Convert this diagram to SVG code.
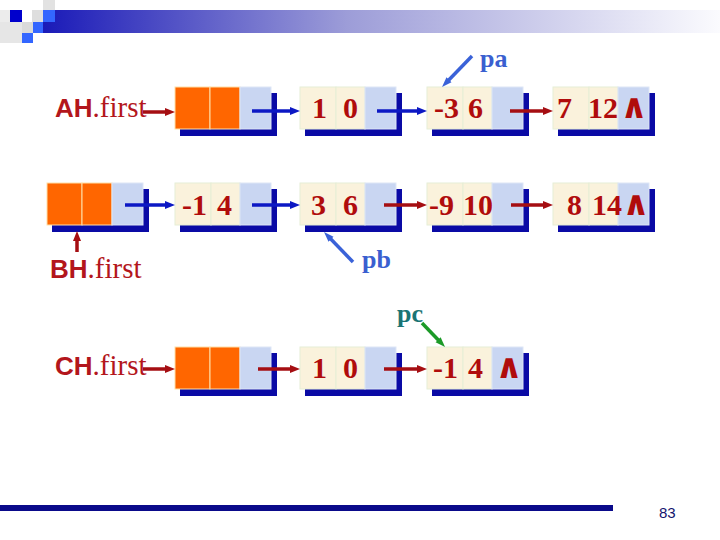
<svg xmlns="http://www.w3.org/2000/svg" width="720" height="540" viewBox="0 0 720 540">
<defs>
<linearGradient id="bar" x1="43" y1="0" x2="720" y2="0" gradientUnits="userSpaceOnUse">
<stop offset="0" stop-color="#1a1ab8"/>
<stop offset="0.45" stop-color="#9d9dd8"/>
<stop offset="1" stop-color="#fbfbfe"/>
</linearGradient>
<marker id="ab" markerUnits="userSpaceOnUse" markerWidth="10" markerHeight="8" refX="2" refY="4" orient="auto"><path d="M0,0 L10,4 L0,8 z" fill="#0c18c4"/></marker>
<marker id="ar" markerUnits="userSpaceOnUse" markerWidth="10" markerHeight="8" refX="2" refY="4" orient="auto"><path d="M0,0 L10,4 L0,8 z" fill="#a50e12"/></marker>
<marker id="ap" markerUnits="userSpaceOnUse" markerWidth="10" markerHeight="8" refX="2" refY="4" orient="auto"><path d="M0,0.5 L10,4 L0,7.5 z" fill="#3a62d8"/></marker>
<marker id="ag" markerUnits="userSpaceOnUse" markerWidth="10" markerHeight="8" refX="2" refY="4" orient="auto"><path d="M0,0.5 L10,4 L0,7.5 z" fill="#1c9a28"/></marker>
</defs>
<style>
.sh{fill:#0a0aa5}
.c{fill:#faf2dc;stroke:#e6eed6;stroke-width:1}
.p{fill:#c9d6f2;stroke:#dde6f6;stroke-width:1}
.o{fill:#ff6600;stroke:#ffe0a8;stroke-width:1}
.t{font-family:"Liberation Serif",serif;font-weight:bold;font-size:30px;fill:#b00c0c}
.w{font-family:"DejaVu Sans",sans-serif;font-weight:bold;font-size:34px;fill:#b00c0c;text-anchor:middle}
.lb{font-family:"Liberation Sans",sans-serif;font-weight:bold;font-size:26px;fill:#b3161c}
.ls{font-family:"Liberation Serif",serif;font-size:29px;fill:#b3161c}
.ptr{font-family:"Liberation Serif",serif;font-weight:bold;font-size:26px}
.lb2{stroke-width:3.5;fill:none}
.bl{stroke:#0c18c4}
.rd{stroke:#a50e12}
</style>
<rect width="720" height="540" fill="#ffffff"/>
<g id="logo">
<rect x="43" y="10" width="677" height="23" fill="url(#bar)"/>
<rect x="0" y="10" width="10" height="12" fill="#ececec"/>
<rect x="10" y="10" width="12" height="12" fill="#0000cc"/>
<rect x="32" y="10" width="11" height="12" fill="#dedede"/>
<rect x="43" y="0" width="12" height="10" fill="#e2e2e2"/>
<rect x="43" y="10" width="12" height="12" fill="#3366ff"/>
<rect x="0" y="22" width="22" height="21" fill="#e6e6e6"/>
<rect x="22" y="22" width="11" height="11" fill="#dadada"/>
<rect x="33" y="22" width="10" height="11" fill="#3366ff"/>
<rect x="22" y="33" width="11" height="10" fill="#3366ff"/>
</g>
<g id="labels">
<text x="55" y="117"><tspan class="lb">AH</tspan><tspan class="ls">.first</tspan></text>
<text x="50" y="278"><tspan class="lb">BH</tspan><tspan class="ls">.first</tspan></text>
<text x="55" y="375"><tspan class="lb">CH</tspan><tspan class="ls">.first</tspan></text>
<text class="ptr" x="480" y="67" fill="#3a5fd0">pa</text>
<text class="ptr" x="362" y="268" fill="#3a5fd0">pb</text>
<text class="ptr" x="397" y="322" fill="#1a7474">pc</text>
</g>
<g id="nodeAH" transform="translate(175,87)">
<rect class="sh" x="5" y="6" width="97" height="43"/>
<rect class="o" x="0" y="0" width="35" height="42"/><rect class="o" x="35" y="0" width="30" height="42"/><rect class="p" x="65" y="0" width="31" height="42"/>
</g>
<g id="nodeA1" transform="translate(300,87)">
<rect class="sh" x="5" y="6" width="97" height="43"/>
<rect class="c" x="0" y="0" width="36" height="42"/><rect class="c" x="36" y="0" width="29" height="42"/><rect class="p" x="65" y="0" width="31" height="42"/>
<text class="t" x="12" y="31">1</text><text class="t" x="43" y="31">0</text>
</g>
<g id="nodeA2" transform="translate(427,87)">
<rect class="sh" x="5" y="6" width="97" height="43"/>
<rect class="c" x="0" y="0" width="36" height="42"/><rect class="c" x="36" y="0" width="29" height="42"/><rect class="p" x="65" y="0" width="31" height="42"/>
<text class="t" x="7" y="31">-3</text><text class="t" x="41" y="31">6</text>
</g>
<g id="nodeA3" transform="translate(553,87)">
<rect class="sh" x="5" y="6" width="97" height="43"/>
<rect class="c" x="0" y="0" width="36" height="42"/><rect class="c" x="36" y="0" width="29" height="42"/><rect class="p" x="65" y="0" width="31" height="42"/>
<text class="t" x="4" y="31">7</text><text class="t" x="35" y="31">12</text><text class="w" x="81" y="31">∧</text>
</g>
<g id="nodeBH" transform="translate(47,183)">
<rect class="sh" x="5" y="6" width="97" height="43"/>
<rect class="o" x="0" y="0" width="35" height="42"/><rect class="o" x="35" y="0" width="30" height="42"/><rect class="p" x="65" y="0" width="31" height="42"/>
</g>
<g id="nodeB1" transform="translate(175,183)">
<rect class="sh" x="5" y="6" width="97" height="43"/>
<rect class="c" x="0" y="0" width="36" height="42"/><rect class="c" x="36" y="0" width="29" height="42"/><rect class="p" x="65" y="0" width="31" height="42"/>
<text class="t" x="7" y="32">-1</text><text class="t" x="42" y="32">4</text>
</g>
<g id="nodeB2" transform="translate(300,183)">
<rect class="sh" x="5" y="6" width="97" height="43"/>
<rect class="c" x="0" y="0" width="36" height="42"/><rect class="c" x="36" y="0" width="29" height="42"/><rect class="p" x="65" y="0" width="31" height="42"/>
<text class="t" x="11" y="32">3</text><text class="t" x="43" y="32">6</text>
</g>
<g id="nodeB3" transform="translate(427,183)">
<rect class="sh" x="5" y="6" width="97" height="43"/>
<rect class="c" x="0" y="0" width="36" height="42"/><rect class="c" x="36" y="0" width="29" height="42"/><rect class="p" x="65" y="0" width="31" height="42"/>
<text class="t" x="2" y="32">-9</text><text class="t" x="36" y="32">10</text>
</g>
<g id="nodeB4" transform="translate(553,183)">
<rect class="sh" x="5" y="6" width="97" height="43"/>
<rect class="c" x="0" y="0" width="36" height="42"/><rect class="c" x="36" y="0" width="29" height="42"/><rect class="p" x="65" y="0" width="31" height="42"/>
<text class="t" x="14" y="32">8</text><text class="t" x="39" y="32">14</text><text class="w" x="83" y="32">∧</text>
</g>
<g id="nodeCH" transform="translate(175,347)">
<rect class="sh" x="5" y="6" width="97" height="43"/>
<rect class="o" x="0" y="0" width="35" height="42"/><rect class="o" x="35" y="0" width="30" height="42"/><rect class="p" x="65" y="0" width="31" height="42"/>
</g>
<g id="nodeC1" transform="translate(300,347)">
<rect class="sh" x="5" y="6" width="97" height="43"/>
<rect class="c" x="0" y="0" width="36" height="42"/><rect class="c" x="36" y="0" width="29" height="42"/><rect class="p" x="65" y="0" width="31" height="42"/>
<text class="t" x="12" y="31">1</text><text class="t" x="43" y="31">0</text>
</g>
<g id="nodeC2" transform="translate(427,347)">
<rect class="sh" x="5" y="6" width="97" height="43"/>
<rect class="c" x="0" y="0" width="36" height="42"/><rect class="c" x="36" y="0" width="29" height="42"/><rect class="p" x="65" y="0" width="31" height="42"/>
<text class="t" x="6" y="31">-1</text><text class="t" x="41" y="31">4</text><text class="w" x="82" y="31">∧</text>
</g>
<g id="connectors" class="lb2">
<line class="rd" x1="143" y1="112" x2="167" y2="112" marker-end="url(#ar)"/>
<line class="bl" x1="252" y1="111" x2="292" y2="111" marker-end="url(#ab)"/>
<line class="bl" x1="377" y1="111" x2="419" y2="111" marker-end="url(#ab)"/>
<line class="rd" x1="510" y1="111" x2="545" y2="111" marker-end="url(#ar)"/>
<line class="bl" x1="125" y1="205" x2="167" y2="205" marker-end="url(#ab)"/>
<line class="bl" x1="252" y1="205" x2="292" y2="205" marker-end="url(#ab)"/>
<line class="rd" x1="384" y1="205" x2="419" y2="205" marker-end="url(#ar)"/>
<line class="rd" x1="511" y1="205" x2="545" y2="205" marker-end="url(#ar)"/>
<line class="rd" x1="77" y1="252" x2="77" y2="239" marker-end="url(#ar)"/>
<line class="rd" x1="143" y1="369" x2="167" y2="369" marker-end="url(#ar)"/>
<line class="rd" x1="258" y1="369" x2="292" y2="369" marker-end="url(#ar)"/>
<line class="rd" x1="384" y1="369" x2="419" y2="369" marker-end="url(#ar)"/>
<line stroke="#3a62d8" x1="472" y1="56" x2="447.6" y2="81.2" marker-end="url(#ap)"/>
<line stroke="#3a62d8" x1="353" y1="262" x2="329.6" y2="237.8" marker-end="url(#ap)"/>
<line stroke="#1c9a28" x1="422" y1="323" x2="439.5" y2="341.2" marker-end="url(#ag)"/>
</g>
<g id="footer">
<rect x="0" y="505" width="613" height="6" fill="#0a0a8a"/>
<text x="659" y="518" font-family="Liberation Sans, sans-serif" font-size="15" fill="#14146e">83</text>
</g>
</svg>
